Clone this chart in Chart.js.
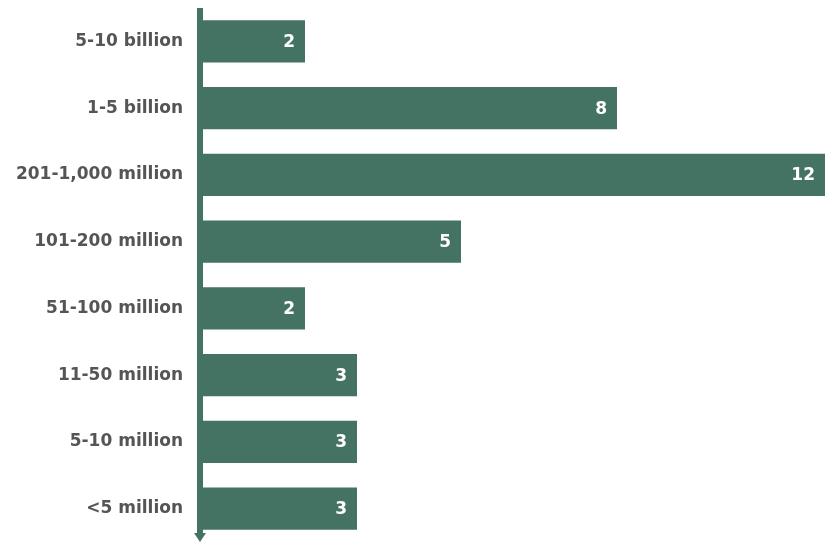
<!DOCTYPE html>
<html lang="en">
<head>
    <meta charset="UTF-8">
    <title>Bar chart</title>
    <script src="https://cdn.jsdelivr.net/npm/chart.js"></script>
    <style>
        html, body { margin: 0; padding: 0; background: #fff; }
        #wrap { width: 825px; height: 542px; }
    </style>
</head>
<body>
    <div id="wrap">
        <canvas id="myChart"></canvas>
    </div>
<script>
    // categories (top to bottom) and counts
    const categories = ['5-10 billion', '1-5 billion', '201-1,000 million', '101-200 million',
                        '51-100 million', '11-50 million', '5-10 million', '<5 million'];
    const counts = [2, 8, 12, 5, 2, 3, 3, 3];

    const barColor = '#447263';

    // white value labels at the end of each bar
    const valueLabels = {
        id: 'valueLabels',
        afterDatasetsDraw(chart) {
            const ctx = chart.ctx;
            const meta = chart.getDatasetMeta(0);
            ctx.save();
            ctx.fillStyle = '#fff';
            ctx.font = 'bold 17px "DejaVu Sans"';
            ctx.textAlign = 'right';
            ctx.textBaseline = 'middle';
            meta.data.forEach((bar, i) => {
                ctx.fillText(counts[i], bar.x - 10, bar.y + 1);
            });
            ctx.restore();
        }
    };

    // vertical axis line with an arrow at the bottom
    const axisArrow = {
        id: 'axisArrow',
        afterDraw(chart) {
            const ctx = chart.ctx;
            const x = chart.scales.x.getPixelForValue(0) - 1;
            ctx.save();
            ctx.strokeStyle = barColor;
            ctx.fillStyle = barColor;
            ctx.lineWidth = 6;
            ctx.beginPath();
            ctx.moveTo(x, 8);
            ctx.lineTo(x, 533);
            ctx.stroke();
            ctx.beginPath();
            ctx.moveTo(x - 6, 533);
            ctx.lineTo(x + 6, 533);
            ctx.lineTo(x, 542);
            ctx.closePath();
            ctx.fill();
            ctx.restore();
        }
    };

    new Chart(document.querySelector('#myChart'), {
        type: 'bar',
        data: {
            labels: categories,
            datasets: [{
                data: counts,
                backgroundColor: barColor,
                borderWidth: 0,
                barPercentage: 0.63,
                categoryPercentage: 1
            }]
        },
        options: {
            indexAxis: 'y',
            responsive: true,
            maintainAspectRatio: false,
            animation: false,
            layout: { padding: { top: 8, bottom: 0, left: 0, right: 0 } },
            plugins: {
                legend: { display: false },
                tooltip: { enabled: false }
            },
            scales: {
                x: {
                    display: false,
                    min: 0,
                    max: 12
                },
                y: {
                    grid: { display: false, drawTicks: false },
                    border: { display: false },
                    afterFit(scale) {
                        scale.width = 201;
                        scale.paddingTop = 0;
                        scale.paddingBottom = 0;
                    },
                    ticks: {
                        padding: 18,
                        color: '#555555',
                        font: { family: '"DejaVu Sans"', weight: 'bold', size: 17 }
                    }
                }
            }
        },
        plugins: [valueLabels, axisArrow]
    });
</script>
</body>
</html>
